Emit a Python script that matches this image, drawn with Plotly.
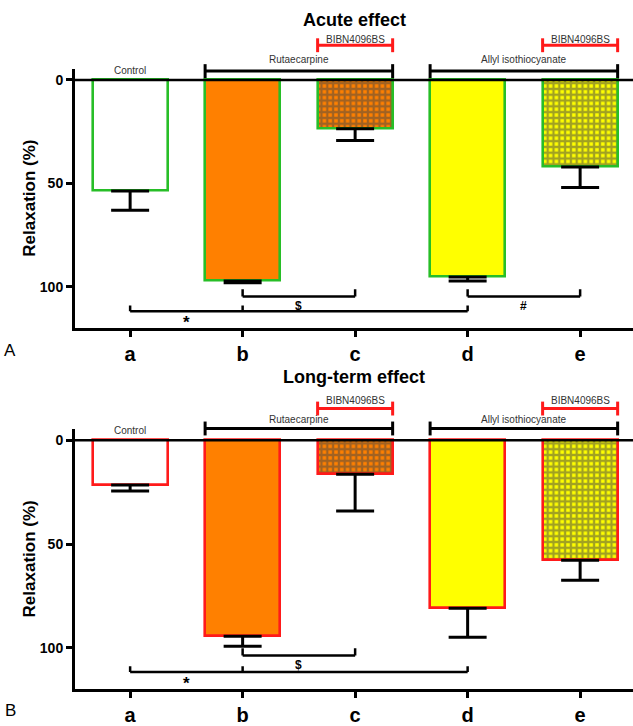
import plotly.graph_objects as go

# ---------------- data ----------------
categories = ["a", "b", "c", "d", "e"]
acute_relaxation = [53.7, 97.1, 23.6, 95.2, 42.0]
acute_sem = [9.3, 0.9, 5.6, 1.9, 10.0]
longterm_relaxation = [21.5, 94.4, 16.4, 80.9, 57.8]
longterm_sem = [2.9, 4.8, 17.6, 14.0, 9.6]

panel_titles = ["Acute effect", "Long-term effect"]
panel_letters = ["A", "B"]
y_tick_values = [0, 50, 100]
y_title = "Relaxation (%)"

# treatment groups: (label, first category, last category)
treatment_groups = [("Control", "a", "a"), ("Rutaecarpine", "b", "c"),
                    ("Allyl isothiocyanate", "d", "e")]
antagonist_groups = [("BIBN4096BS", "c", "c"), ("BIBN4096BS", "e", "e")]

# significance: (symbol, categories joined, bracket level)
acute_significance = [("$", ["b", "c"], 1), ("*", ["a", "b", "d"], 2), ("#", ["d", "e"], 1)]
longterm_significance = [("$", ["b", "c"], 1), ("*", ["a", "b", "d"], 2)]

# ---------------- styling ----------------
FONT = "Liberation Sans, Arial, sans-serif"
GREEN = "#27be27"
RED = "#ff1a1a"
fills = ["#ffffff", "#ff8000", "#ff8000", "#ffff00", "#ffff00"]
patterns = ["", "", "+", "", "+"]
BAR_W = 0.667
Y_RANGE = [120, -5.5]
X_RANGE = [-0.49, 4.47]

idx = {c: i for i, c in enumerate(categories)}
xs = list(range(len(categories)))

panels = [
    dict(vals=acute_relaxation, err=acute_sem, edge=GREEN, dom=[0.5441, 0.9047],
         xa="x", ya="y", sig=acute_significance, title=panel_titles[0], letter=panel_letters[0],
         grp_line=-4.3, grp_text=-9.8, ctrl_text=-4.6, ant_line=-16.8, ant_text=-19.6,
         lvl={1: 104.6, 2: 111.8}, title_y=1 - 20 / 726, letter_y=1 - 353 / 726),
    dict(vals=longterm_relaxation, err=longterm_sem, edge=RED, dom=[0.0424, 0.4043],
         xa="x2", ya="y2", sig=longterm_significance, title=panel_titles[1], letter=panel_letters[1],
         grp_line=-5.7, grp_text=-10.2, ctrl_text=-4.8, ant_line=-15.3, ant_text=-19.3,
         lvl={1: 103.6, 2: 111.6}, title_y=1 - 380 / 726, letter_y=1 - 716 / 726),
]


def to_paper(v, dom):
    frac = (Y_RANGE[0] - v) / (Y_RANGE[0] - Y_RANGE[1])
    return dom[0] + frac * (dom[1] - dom[0])


def label(text, x, y, xref, yref, size, weight="normal", color="#333", angle=0):
    return dict(text=text, x=x, y=y, xref=xref, yref=yref, showarrow=False,
                xanchor="center", yanchor="middle", textangle=angle,
                font=dict(family=FONT, size=size, color=color, weight=weight))


fig = go.Figure()
shapes = []
annotations = []

for p in panels:
    fig.add_trace(go.Bar(
        x=xs, y=p["vals"], width=BAR_W, xaxis=p["xa"], yaxis=p["ya"],
        marker=dict(color=fills, line=dict(color=p["edge"], width=2.6),
                    pattern=dict(shape=patterns, fgcolor="black", fillmode="overlay",
                                 size=5.8, solidity=0.64)),
        error_y=dict(type="data", symmetric=False, array=p["err"],
                     arrayminus=[0] * len(p["err"]), color="black", thickness=3, width=19),
        showlegend=False, hoverinfo="skip",
    ))
    dom = p["dom"]
    # zero line over bar tops
    shapes.append(dict(type="line", xref=p["xa"] + " domain", yref=p["ya"], x0=0, x1=1, y0=0, y1=0,
                       line=dict(color="black", width=2.5), layer="above"))
    tk = 7 / 726
    # treatment group brackets
    for text, c0, c1 in treatment_groups:
        if c0 == c1:
            annotations.append(label(text, idx[c0], to_paper(p["ctrl_text"], dom), p["xa"], "paper", 10))
            continue
        x0 = idx[c0] - BAR_W / 2
        x1 = idx[c1] + BAR_W / 2
        yl = to_paper(p["grp_line"], dom)
        shapes.append(dict(type="line", xref=p["xa"], yref="paper", x0=x0, x1=x1, y0=yl, y1=yl,
                           line=dict(color="black", width=3)))
        for xx in (x0, x1):
            shapes.append(dict(type="line", xref=p["xa"], yref="paper", x0=xx, x1=xx,
                               y0=yl - tk, y1=yl + tk, line=dict(color="black", width=3)))
        annotations.append(label(text, (idx[c0] + idx[c1]) / 2, to_paper(p["grp_text"], dom),
                                 p["xa"], "paper", 10))
    # antagonist brackets
    for text, c0, c1 in antagonist_groups:
        x0 = idx[c0] - BAR_W / 2
        x1 = idx[c1] + BAR_W / 2
        yl = to_paper(p["ant_line"], dom)
        shapes.append(dict(type="line", xref=p["xa"], yref="paper", x0=x0, x1=x1, y0=yl, y1=yl,
                           line=dict(color=RED, width=3)))
        for xx in (x0, x1):
            shapes.append(dict(type="line", xref=p["xa"], yref="paper", x0=xx, x1=xx,
                               y0=yl - tk, y1=yl + tk, line=dict(color=RED, width=3)))
        annotations.append(label(text, (idx[c0] + idx[c1]) / 2, to_paper(p["ant_text"], dom),
                                 p["xa"], "paper", 10))
    # significance brackets
    for sym, cats, level in p["sig"]:
        yl = p["lvl"][level]
        tick = 3.5 if level == 1 else 2.8
        xa0, xa1 = idx[cats[0]], idx[cats[-1]]
        shapes.append(dict(type="line", xref=p["xa"], yref=p["ya"], x0=xa0, x1=xa1, y0=yl, y1=yl,
                           line=dict(color="black", width=2.5)))
        for c in cats:
            shapes.append(dict(type="line", xref=p["xa"], yref=p["ya"], x0=idx[c], x1=idx[c],
                               y0=yl, y1=yl - tick, line=dict(color="black", width=2.5)))
        ty = yl + (4.6 if level == 1 else 5.4)
        tx = (xa0 + idx[cats[1]]) / 2 if level == 2 else (xa0 + xa1) / 2
        annotations.append(label(sym, tx, ty, p["xa"], p["ya"], 17 if sym == "*" else 12,
                                 weight="bold", color="black"))
    # title, letter, y title
    annotations.append(label(p["title"], 0.5, p["title_y"], "paper", "paper", 18,
                             weight="bold", color="black"))
    annotations.append(label(p["letter"], -0.116, p["letter_y"], "paper", "paper", 17,
                             color="black"))
    annotations.append(label(y_title, -0.082, (dom[0] + dom[1]) / 2, "paper", "paper", 17,
                             weight="bold", color="black", angle=-90))

axis_common_x = dict(range=X_RANGE, tickvals=xs, ticktext=categories, showline=True,
                     linecolor="black", linewidth=3, ticks="outside", ticklen=6, tickwidth=2.5,
                     tickcolor="black", showgrid=False, zeroline=False,
                     tickfont=dict(family=FONT, size=20, color="black", weight="bold"))
axis_common_y = dict(range=Y_RANGE, tickvals=y_tick_values, showline=True, linecolor="black",
                     linewidth=3, ticks="outside", ticklen=6, tickwidth=2.5, tickcolor="black",
                     showgrid=False, zeroline=False,
                     tickfont=dict(family=FONT, size=14, color="black", weight="bold"))

fig.update_layout(
    width=633, height=726,
    margin=dict(l=75, r=0, t=0, b=0),
    paper_bgcolor="white", plot_bgcolor="white",
    xaxis=dict(domain=[0, 1], anchor="y", **axis_common_x),
    yaxis=dict(domain=panels[0]["dom"], anchor="x", **axis_common_y),
    xaxis2=dict(domain=[0, 1], anchor="y2", **axis_common_x),
    yaxis2=dict(domain=panels[1]["dom"], anchor="x2", **axis_common_y),
    shapes=shapes, annotations=annotations, bargap=0, hovermode=False,
)

fig.write_html("out.html", config={"displayModeBar": False},
               post_script="document.body.style.margin='0';document.body.style.overflow='hidden';")
